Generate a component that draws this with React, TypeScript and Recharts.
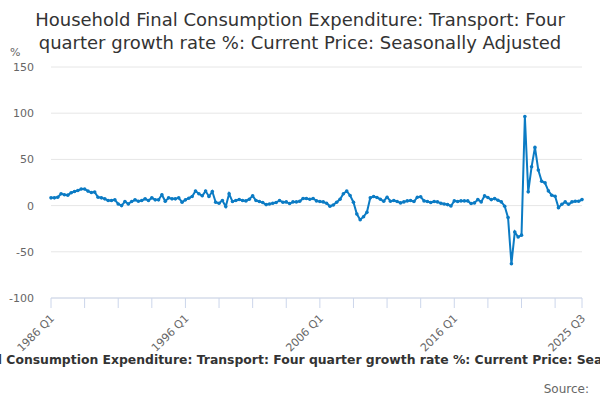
import React from 'react';
import { LineChart, Line, XAxis, YAxis, CartesianGrid } from 'recharts';

const startYear = 1986;
const quarterCount = 159;
const growth1986to1996 = [8.4, 8.4, 9, 12.8, 11.7, 11.3, 13.9, 15.3, 16.4, 17.9, 17.9, 15.7, 14.2, 14.6, 9.1, 8.4, 7.3, 5.5, 5.5, 6.2, 1.8, 0, 4.4, 1.8, 4.4, 6.2, 4.7, 5.5, 7.3, 5.5, 8.4, 6.2, 6.2, 11.7, 4.7, 8.4, 7.3, 7.3, 8.4, 3.7, 6.2, 8];
const growth1996to2006 = [9.9, 15.7, 12.8, 10.6, 15.7, 9.9, 15.3, 3.7, 2.6, 5.5, -1, 12.8, 4.4, 5.5, 6.6, 5.5, 5.1, 6.9, 10.6, 5.5, 4.4, 3.3, 1.1, 1.8, 2.6, 3.3, 5.5, 3.7, 4, 2.2, 4, 4, 4.7, 7.7, 7.7, 6.9, 7.7, 5.1, 4.4, 4, 2.6, -0.7];
const growth2007to2016 = [0.7, 3.7, 6.9, 12.8, 15.7, 11, 3.7, -9.1, -15.3, -12, -7.3, 8.4, 9.9, 8.8, 6.9, 4.7, 9.1, 4.7, 5.5, 4.4, 2.9, 4, 5.1, 5.5, 4.4, 9.1, 9.5, 5.1, 4.4, 3.3, 4.4, 4, 2.6, 1.8, 1.1, -0.4, 5.1, 4.4];
const growth2016to2025 = [5.1, 5.1, 5.1, 2.2, 2.9, 6.5, 4, 10.5, 8.7, 6.5, 7.6, 5.8, 4, -0.7, -13, -63, -28.6, -34, -32, 96.4, 14.9, 42, 63, 38.4, 26.4, 24.6, 15.9, 11.2, 10.1, -2.2, 1.4, 4, 1.4, 4, 4.7, 4.7, 6.5];
const growthValues = [...growth1986to1996, ...growth1996to2006, ...growth2007to2016, ...growth2016to2025];

const quarterLabels: string[] = [];
for (let i = 0; i < quarterCount; i++) {
  quarterLabels.push(`${startYear + Math.floor(i / 4)} Q${(i % 4) + 1}`);
}

const xTicks = [0, 10, 20, 30, 40, 50, 60, 70, 80, 90, 100, 110, 120, 130, 140, 150, 158];
const labeledTicks = [0, 40, 80, 120, 158];
const yTicks = [-100, -50, 0, 50, 100, 150];

const data = growthValues.map((v, i) => ({ i, label: quarterLabels[i], value: v }));

const FONT = '"DejaVu Sans", sans-serif';

const XTick = (props: any) => {
  const { x, y, payload } = props;
  const idx = payload.value;
  if (!labeledTicks.includes(idx)) return null;
  const tx = x + 4;
  const ty = y + 9;
  return (
    <text x={tx} y={ty} transform={`rotate(-45 ${tx} ${ty})`} textAnchor="end" fontSize={11} fill="#666" fontFamily={FONT}>
      {quarterLabels[idx]}
    </text>
  );
};

export default function App() {
  return (
    <div style={{ position: 'absolute', left: 0, top: 0, width: 600, height: 400, overflow: 'hidden', background: '#fff', fontFamily: FONT }}>
      <div style={{ position: 'absolute', left: 0, top: 8, width: 600, textAlign: 'center', fontSize: 18, lineHeight: '23px', color: '#333' }}>
        Household Final Consumption Expenditure: Transport: Four<br />quarter growth rate %: Current Price: Seasonally Adjusted
      </div>
      <div style={{ position: 'absolute', left: 10, top: 46, fontSize: 11, color: '#666' }}>%</div>
      <LineChart width={600} height={400} data={data} margin={{ top: 67, right: 18, bottom: 42, left: 0 }}>
        <CartesianGrid horizontal vertical={false} stroke="#e6e6e6" />
        <XAxis
          dataKey="i"
          type="number"
          domain={[0, 158]}
          ticks={xTicks}
          interval={0}
          height={60}
          tick={<XTick />}
          tickSize={10}
          tickLine={{ stroke: '#ccd6eb' }}
          axisLine={{ stroke: '#ccd6eb' }}
        />
        <YAxis
          domain={[-100, 150]}
          ticks={yTicks}
          interval={0}
          width={51}
          axisLine={false}
          tickLine={false}
          tickMargin={11}
          tick={{ fontSize: 11, fill: '#666', fontFamily: FONT }}
        />
        <Line
          dataKey="value"
          stroke="#0b7bc4"
          strokeWidth={2}
          dot={{ r: 1.8, fill: '#0b7bc4', stroke: '#0b7bc4', strokeWidth: 0 }}
          isAnimationActive={false}
        />
      </LineChart>
      <div style={{ position: 'absolute', left: 304, top: 352, transform: 'translateX(-50%)', whiteSpace: 'nowrap', fontSize: 12.4, fontWeight: 'bold', color: '#333' }}>
        Household Final Consumption Expenditure: Transport: Four quarter growth rate %: Current Price: Seasonally Adjusted
      </div>
      <div style={{ position: 'absolute', right: 11, top: 382, whiteSpace: 'nowrap', fontSize: 12, color: '#666' }}>
        Source:
      </div>
    </div>
  );
}
